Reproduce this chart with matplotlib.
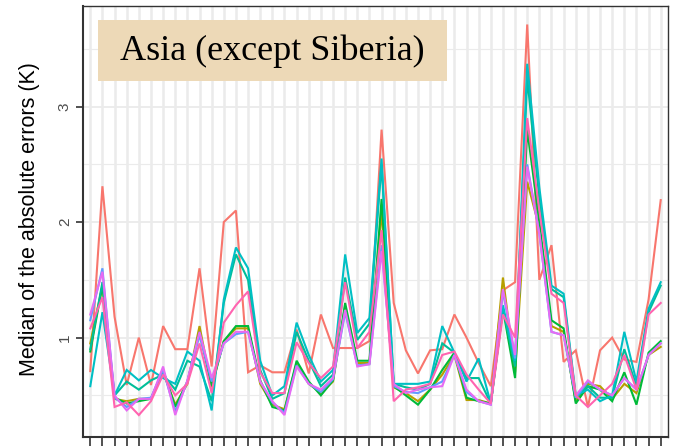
import numpy as np
import matplotlib.pyplot as plt
from matplotlib.patches import Rectangle

# median absolute error per station / model run
red = [0.71, 2.31, 1.18, 0.59, 1.00, 0.59, 1.10, 0.90, 0.90, 1.60,
       0.75, 2.00, 2.10, 0.70, 0.76, 0.70, 0.70, 1.07, 0.69, 1.20,
       0.91, 0.91, 0.91, 0.97, 2.80, 1.30, 0.89, 0.69, 0.89, 0.90,
       1.20, 1.00, 0.78, 0.58, 1.41, 1.48, 3.71, 1.50, 1.80, 0.79,
       0.89, 0.40, 0.89, 1.00, 0.81, 0.79, 1.33, 2.19]
olive = [0.95, 1.45, 0.47, 0.45, 0.47, 0.47, 0.70, 0.42, 0.60, 1.10,
         0.57, 0.97, 1.08, 1.08, 0.60, 0.42, 0.38, 0.78, 0.60, 0.52,
         0.62, 1.27, 0.78, 0.78, 2.10, 0.57, 0.52, 0.45, 0.55, 0.68,
         0.85, 0.46, 0.46, 0.43, 1.52, 0.70, 2.35, 1.95, 1.10, 1.05,
         0.45, 0.60, 0.58, 0.47, 0.60, 0.52, 0.85, 0.92]
green = [0.88, 1.45, 0.48, 0.43, 0.45, 0.47, 0.72, 0.40, 0.62, 1.05,
         0.58, 0.97, 1.10, 1.10, 0.63, 0.40, 0.37, 0.80, 0.62, 0.50,
         0.63, 1.30, 0.80, 0.80, 2.20, 0.58, 0.50, 0.42, 0.55, 0.72,
         0.87, 0.48, 0.45, 0.43, 1.25, 0.65, 2.80, 2.00, 1.15, 1.08,
         0.43, 0.58, 0.55, 0.45, 0.70, 0.42, 0.87, 0.97]
teal_green = [0.90, 1.48, 0.50, 0.62, 0.55, 0.63, 0.68, 0.55, 0.80, 0.75,
              0.45, 1.30, 1.72, 1.50, 0.72, 0.47, 0.52, 1.05, 0.80, 0.58,
              0.68, 1.52, 0.98, 1.12, 2.50, 0.60, 0.57, 0.55, 0.60, 0.95,
              0.87, 0.65, 0.65, 0.43, 1.25, 0.75, 3.25, 2.20, 1.42, 1.35,
              0.48, 0.58, 0.48, 0.48, 0.90, 0.58, 1.22, 1.45]
teal = [0.58, 1.22, 0.50, 0.72, 0.63, 0.72, 0.65, 0.60, 0.88, 0.80,
        0.37, 1.33, 1.78, 1.60, 0.80, 0.50, 0.58, 1.13, 0.85, 0.62,
        0.72, 1.72, 1.04, 1.17, 2.55, 0.60, 0.60, 0.60, 0.62, 1.10,
        0.87, 0.62, 0.82, 0.43, 1.28, 0.80, 3.37, 2.30, 1.45, 1.38,
        0.50, 0.55, 0.45, 0.50, 1.05, 0.62, 1.25, 1.48]
blue = [1.15, 1.60, 0.48, 0.40, 0.47, 0.48, 0.72, 0.36, 0.62, 1.02,
        0.62, 0.95, 1.03, 1.05, 0.62, 0.44, 0.35, 0.76, 0.60, 0.53,
        0.64, 1.22, 0.76, 0.77, 1.80, 0.58, 0.53, 0.52, 0.57, 0.62,
        0.85, 0.53, 0.45, 0.42, 1.40, 0.82, 2.50, 1.90, 1.05, 1.02,
        0.48, 0.62, 0.55, 0.50, 0.65, 0.55, 0.85, 0.95]
violet = [1.20, 1.57, 0.50, 0.37, 0.47, 0.47, 0.75, 0.33, 0.63, 1.05,
          0.65, 0.95, 1.05, 1.05, 0.62, 0.45, 0.33, 0.75, 0.60, 0.55,
          0.65, 1.24, 0.75, 0.77, 1.75, 0.60, 0.52, 0.55, 0.57, 0.58,
          0.85, 0.55, 0.45, 0.42, 1.42, 0.85, 2.48, 1.90, 1.05, 1.02,
          0.50, 0.63, 0.55, 0.50, 0.65, 0.55, 0.85, 0.95]
pink = [1.08, 1.35, 0.40, 0.44, 0.33, 0.45, 0.68, 0.50, 0.60, 0.95,
        0.52, 1.13, 1.28, 1.40, 0.70, 0.52, 0.52, 0.96, 0.78, 0.65,
        0.75, 1.48, 0.91, 1.05, 1.93, 0.45, 0.55, 0.57, 0.60, 0.85,
        0.88, 0.68, 0.55, 0.43, 1.20, 1.00, 2.90, 2.10, 1.38, 1.30,
        0.50, 0.40, 0.50, 0.60, 0.85, 0.55, 1.20, 1.30]

series = [red, olive, green, teal_green, teal, blue, violet, pink]
colors = ['#F8766D', '#B79F00', '#00BA38', '#00BE9A', '#00BFC4', '#619CFF', '#E76BF3', '#FF64B0']

y_ticks = [1, 2, 3]
y_tick_labels = ['1', '2', '3']

x = np.arange(len(red))

plt.rcParams['font.family'] = ['Liberation Sans', 'DejaVu Sans']

fig = plt.figure(figsize=(6.78, 4.46), dpi=100)
ax = fig.add_axes([83 / 678, 1 - 437 / 446, 585 / 678, 431 / 446])

for vals, c in zip(series, colors):
    ax.plot(x, vals, color=c, lw=1.5, solid_joinstyle='miter')

ax.set_xlim(-0.6, len(x) - 0.4)
ax.set_ylim(0.14, 3.87)

# grid like theme_bw
ax.set_xticks(x)
ax.set_xticklabels([''] * len(x))
ax.set_yticks(y_ticks)
ax.set_yticklabels(y_tick_labels, fontsize=11, rotation=90, va='center',
                   color='#4D4D4D')
ax.set_yticks([0.5, 1.5, 2.5, 3.5], minor=True)
ax.grid(True, axis='x', color='#EBEBEB', lw=1.8)
ax.grid(True, axis='y', which='major', color='#EBEBEB', lw=1.3)
ax.grid(True, axis='y', which='minor', color='#EBEBEB', lw=0.8)
ax.set_axisbelow(True)
ax.tick_params(axis='x', length=7, width=1.2, color='#333333')
ax.tick_params(axis='y', length=5, width=1.2, color='#333333', pad=3)
ax.tick_params(axis='y', which='minor', length=0)

for side in ['left', 'bottom']:
    ax.spines[side].set_linewidth(1.5)
    ax.spines[side].set_color('#333333')
for side in ['top', 'right']:
    ax.spines[side].set_linewidth(1.0)
    ax.spines[side].set_color('#333333')

fig.text(30 / 678, 1 - 219 / 446, 'Median of the absolute errors (K)',
         rotation=90, ha='center', va='center', fontsize=15.5)

# region label box
fig.patches.append(Rectangle((98 / 678, 1 - 81 / 446), 349 / 678, 61 / 446,
                             transform=fig.transFigure, facecolor='#EDD9B7',
                             edgecolor='none', zorder=5))
fig.text(272 / 678, 1 - 51 / 446, 'Asia (except Siberia)', family='Liberation Serif',
         fontsize=26, ha='center', va='center', zorder=6)

fig.savefig('out.png', dpi=100)
